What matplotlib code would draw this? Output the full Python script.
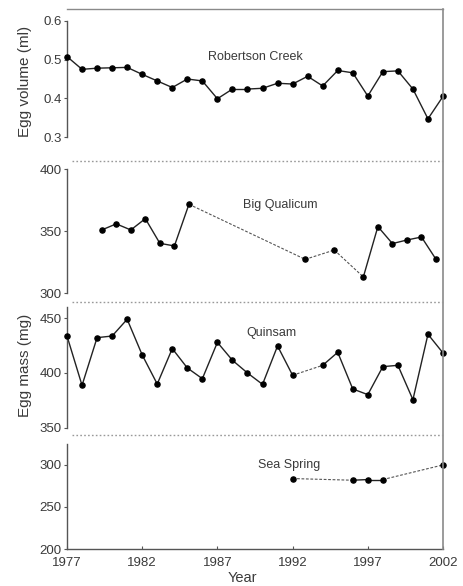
import numpy as np
import matplotlib
matplotlib.use('Agg')
import matplotlib.pyplot as plt
from matplotlib.lines import Line2D

plt.rcParams['font.family'] = ['Liberation Sans', 'DejaVu Sans']

# Robertson Creek egg volume (ml)
rc_years = list(range(1977, 2003))
rc_vol = [0.508, 0.475, 0.478, 0.479, 0.480, 0.462, 0.445, 0.428, 0.450, 0.445,
          0.399, 0.424, 0.424, 0.426, 0.439, 0.437, 0.457, 0.432, 0.472, 0.466,
          0.406, 0.469, 0.471, 0.424, 0.347, 0.405]

# Big Qualicum egg mass (mg)
bq_years = [1979, 1980, 1981, 1982, 1983, 1984, 1985, 1993, 1995, 1997, 1998, 1999, 2000, 2001, 2002]
bq_mass = [351.1, 356.0, 351.1, 360.2, 340.3, 338.2, 371.8, 327.4, 334.9, 313.2,
           353.8, 340.1, 343.0, 345.4, 327.4]

# Quinsam egg mass (mg), 1993 missing
qs_years = [1977, 1978, 1979, 1980, 1981, 1982, 1983, 1984, 1985, 1986, 1987, 1988,
            1989, 1990, 1991, 1992, 1994, 1995, 1996, 1997, 1998, 1999, 2000, 2001, 2002]
qs_mass = [433.8, 388.7, 432.3, 433.8, 449.1, 416.5, 389.9, 422.3, 404.6, 394.8,
           428.0, 411.6, 400.0, 389.6, 424.7, 397.9, 407.0, 418.9, 385.4, 380.2,
           405.8, 407.0, 375.6, 435.4, 418.3]

# Sea Spring egg mass (mg)
ss_years = [1992, 1996, 1997, 1998, 2002]
ss_mass = [283.8, 281.8, 282.6, 282.6, 300.0]

W, H = 463, 586
fig = plt.figure(figsize=(W / 100, H / 100), dpi=100)

txt = '#3a3a3a'
frame = '#8a8a8a'
spine_c = '#555555'


def px_ax(y0, y1, x0=67, x1=443):
    return fig.add_axes([x0 / W, 1 - y1 / H, (x1 - x0) / W, (y1 - y0) / H])


def plot_series(ax, years, vals):
    # solid for consecutive years, dashed across gaps
    for i in range(len(years) - 1):
        ls = '-' if years[i + 1] - years[i] == 1 else (0, (2.5, 1.5))
        lw = 1.0 if ls == '-' else 0.8
        col = '#222222' if ls == '-' else '#555555'
        ax.plot(years[i:i + 2], vals[i:i + 2], ls=ls, color=col, lw=lw, zorder=2)
    ax.plot(years, vals, 'o', color='black', ms=3.7, zorder=3, clip_on=False)


def style(ax, lo, hi, ticks, fmt):
    for s in ['top', 'bottom', 'right']:
        ax.spines[s].set_visible(False)
    ax.spines['left'].set_bounds(lo, hi)
    ax.spines['left'].set_color(spine_c)
    ax.spines['left'].set_linewidth(1.0)
    ax.set_yticks(ticks)
    ax.set_yticklabels([fmt.format(t) for t in ticks])
    ax.tick_params(axis='y', length=2.5, width=0.8, color=spine_c, labelsize=9.5,
                   labelcolor=txt, pad=1.5)
    ax.set_xticks([])
    ax.patch.set_alpha(0)


# panel 1
ax1 = px_ax(9, 161)
plot_series(ax1, rc_years, rc_vol)
ax1.set_xlim(1977, 2002)
ax1.set_ylim(0.238, 0.631)
style(ax1, 0.3, 0.6, [0.3, 0.4, 0.5, 0.6], '{:.1f}')
ax1.text(1989.5, 0.508, 'Robertson Creek', ha='center', va='center', fontsize=9, color=txt)

# panel 2 (slightly compressed year axis, as in the original)
ax2 = px_ax(161, 302)
plot_series(ax2, bq_years, bq_mass)
ax2.set_xlim(1976.61, 2002.48)
ax2.set_ylim(293.0, 406.7)
style(ax2, 300, 400, [300, 350, 400], '{:d}')
ax2.text(1991.3, 371.5, 'Big Qualicum', ha='center', va='center', fontsize=9, color=txt)

# panel 3
ax3 = px_ax(302, 435)
plot_series(ax3, qs_years, qs_mass)
ax3.set_xlim(1977, 2002)
ax3.set_ylim(343.3, 464.9)
style(ax3, 350, 460, [350, 400, 450], '{:d}')
ax3.text(1990.6, 436.5, 'Quinsam', ha='center', va='center', fontsize=9, color=txt)

# panel 4
ax4 = px_ax(435, 549)
plot_series(ax4, ss_years, ss_mass)
ax4.set_xlim(1977, 2002)
ax4.set_ylim(200, 335.6)
style(ax4, 200, 325, [200, 250, 300], '{:d}')
ax4.spines['bottom'].set_visible(True)
ax4.spines['bottom'].set_color(spine_c)
ax4.spines['bottom'].set_linewidth(1.0)
ax4.set_xticks(list(range(1977, 2003, 5)))
ax4.tick_params(axis='x', length=2, width=0.8, direction='in', color=spine_c,
                labelsize=9.5, labelcolor=txt, pad=6)
ax4.text(1991.8, 300.5, 'Sea Spring', ha='center', va='center', fontsize=9, color=txt)

# outer frame: top and right
fig.add_artist(Line2D([67 / W, 443 / W], [1 - 9 / H, 1 - 9 / H], color=frame, lw=1.0))
fig.add_artist(Line2D([443 / W, 443 / W], [1 - 9 / H, 1 - 549 / H], color=frame, lw=1.2))
# dotted separators between panels
for yy in [161, 302, 435]:
    fig.add_artist(Line2D([72 / W, 443 / W], [1 - yy / H, 1 - yy / H], color='#999999',
                          lw=1.0, ls=(0, (1.2, 1.6))))

fig.text(25 / W, 1 - 81 / H, 'Egg volume (ml)', rotation=90, ha='center', va='center',
         fontsize=11, color=txt)
fig.text(25 / W, 1 - 365 / H, 'Egg mass (mg)', rotation=90, ha='center', va='center',
         fontsize=11, color=txt)
fig.text(242 / W, 1 - 578 / H, 'Year', ha='center', va='center', fontsize=10.5, color=txt)

fig.savefig('out.png', dpi=100, facecolor='white')
